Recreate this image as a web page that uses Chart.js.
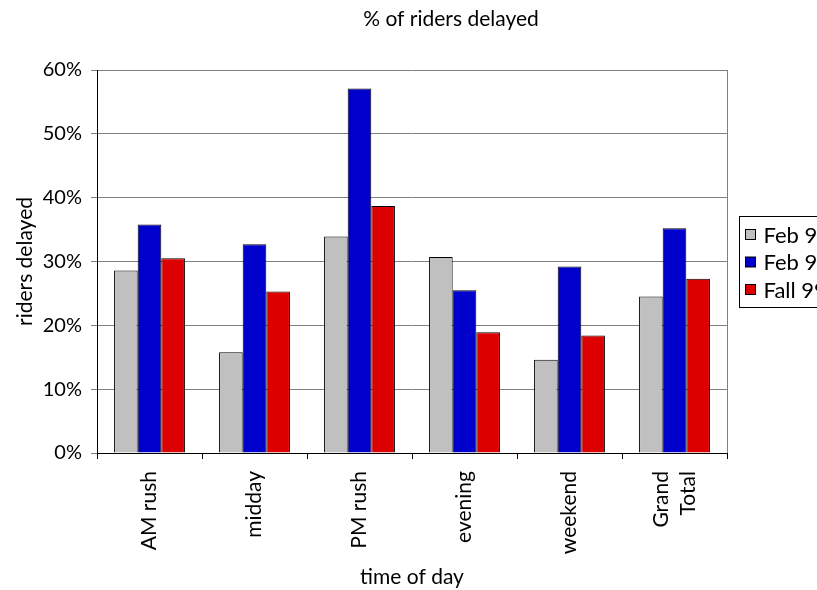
<!DOCTYPE html>
<html>
<head>
<meta charset="utf-8">
<script src="https://cdn.jsdelivr.net/npm/chart.js@4/dist/chart.umd.min.js"></script>
<style>
  html, body { margin: 0; padding: 0; background: #fff; overflow: hidden; }
  canvas { display: block; }
</style>
</head>
<body>
<canvas id="c" width="817" height="590"></canvas>
<script>
// Share of riders delayed, by time of day, for three survey periods
const categories = ['AM rush', 'midday', 'PM rush', 'evening', 'weekend', ['Grand', 'Total']];
const seriesNames = ['Feb 98', 'Feb 99', 'Fall 99'];
const febFirst = [28.6, 15.8, 33.9, 30.7, 14.6, 24.5];
const febSecond = [35.8, 32.7, 57.1, 25.5, 29.2, 35.2];
const fallValues = [30.5, 25.3, 38.7, 18.9, 18.4, 27.3];
const yMax = 60;
const yStep = 10;

const seriesColors = ['#C0C0C0', '#0000CC', '#DD0000'];
const FONT = 'Lato, "DejaVu Sans", sans-serif';

// Chart title across the top
const titlePlugin = {
  id: 'topTitle',
  afterDraw(chart) {
    const ctx = chart.ctx;
    ctx.save();
    ctx.font = '21px ' + FONT;
    ctx.fillStyle = '#000';
    ctx.textAlign = 'center';
    ctx.textBaseline = 'middle';
    ctx.fillText('% of riders delayed', 451, 19);
    ctx.restore();
  }
};

// Centre multi-line category labels on their tick
const centerMultiLinePlugin = {
  id: 'centerMultiLine',
  beforeDraw(chart) {
    const scale = chart.scales.x;
    const lineHeight = 21 * 1.3;
    scale.getLabelItems().forEach(item => {
      if (Array.isArray(item.label) && item.label.length > 1) {
        item.options.translation[0] -= (item.label.length - 1) * lineHeight / 2;
      }
    });
  }
};

// Right edge of the plot frame
const framePlugin = {
  id: 'frame',
  beforeDatasetsDraw(chart) {
    const {ctx, chartArea} = chart;
    ctx.save();
    ctx.strokeStyle = '#808080';
    ctx.lineWidth = 1;
    ctx.beginPath();
    const x = Math.round(chartArea.right) + 0.5;
    ctx.moveTo(x, chartArea.top);
    ctx.lineTo(x, chartArea.bottom);
    ctx.stroke();
    ctx.restore();
  }
};

// Boxed legend to the right of the plot
const boxLegendPlugin = {
  id: 'boxLegend',
  afterDraw(chart) {
    const ctx = chart.ctx;
    const left = chart.chartArea.right + 12.5;
    const top = 216.5;
    const rowGap = 27.5;
    ctx.save();
    ctx.fillStyle = '#fff';
    ctx.strokeStyle = '#000';
    ctx.lineWidth = 1;
    ctx.fillRect(left, top, 140, 91);
    ctx.strokeRect(left, top, 140, 91);
    ctx.font = '22px ' + FONT;
    ctx.textBaseline = 'middle';
    ctx.textAlign = 'left';
    chart.data.datasets.forEach((ds, i) => {
      const cy = top + 18 + i * rowGap;
      ctx.fillStyle = ds.backgroundColor;
      ctx.fillRect(left + 6, cy - 5, 10, 10);
      ctx.strokeRect(left + 6, cy - 5, 10, 10);
      ctx.fillStyle = '#000';
      ctx.fillText(ds.label, left + 24, cy + 1);
    });
    ctx.restore();
  }
};

const values = [febFirst, febSecond, fallValues];

new Chart(document.getElementById('c'), {
  type: 'bar',
  data: {
    labels: categories,
    datasets: seriesNames.map((name, i) => ({
      label: name,
      data: values[i],
      backgroundColor: seriesColors[i],
      borderColor: '#000',
      borderWidth: 1,
      categoryPercentage: 0.675,
      barPercentage: 1.0
    }))
  },
  options: {
    responsive: false,
    animation: false,
    devicePixelRatio: 1,
    layout: { padding: { top: 70, right: 90, left: 0, bottom: 0 } },
    plugins: {
      legend: { display: false },
      title: { display: false },
      tooltip: { enabled: false }
    },
    scales: {
      x: {
        afterFit(scale) { scale.height = 137; },
        grid: {
          offset: true,
          drawOnChartArea: false,
          drawTicks: true,
          tickLength: 6,
          color: '#000'
        },
        border: { color: '#000', width: 1 },
        ticks: {
          minRotation: 90,
          maxRotation: 90,
          padding: 12,
          color: '#000',
          font: { family: FONT, size: 21, lineHeight: 1.3 }
        },
        title: {
          display: true,
          text: 'time of day',
          color: '#000',
          font: { family: FONT, size: 21 },
          padding: { top: 0, bottom: 0 }
        }
      },
      y: {
        min: 0,
        max: yMax,
        afterFit(scale) { scale.width = 97; },
        grid: {
          color: '#808080',
          tickLength: 6,
          drawTicks: true
        },
        border: { color: '#000', width: 1 },
        ticks: {
          stepSize: yStep,
          padding: 9,
          color: '#000',
          font: { family: FONT, size: 20 },
          callback: v => v + '%'
        },
        title: {
          display: true,
          text: 'riders delayed',
          color: '#000',
          font: { family: FONT, size: 21 },
          padding: { top: 13, bottom: 0 }
        }
      }
    }
  },
  plugins: [titlePlugin, centerMultiLinePlugin, framePlugin, boxLegendPlugin]
});
</script>
</body>
</html>
